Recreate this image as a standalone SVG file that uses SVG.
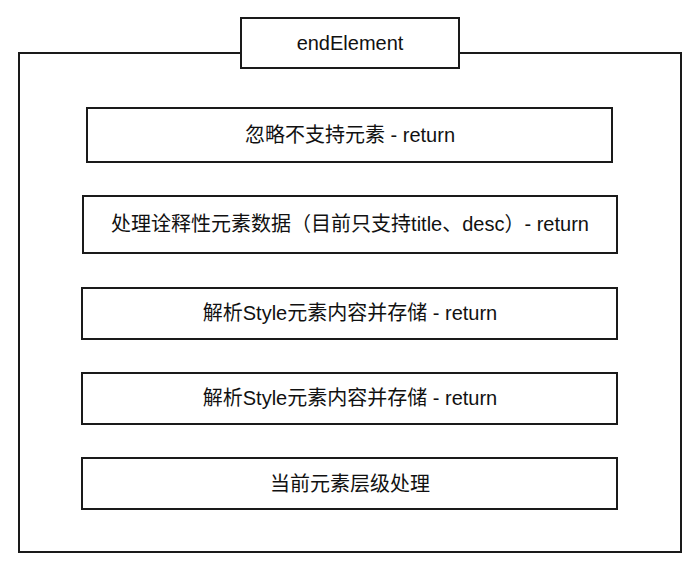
<svg xmlns="http://www.w3.org/2000/svg" width="699" height="571" viewBox="0 0 699 571">
<style>
.box{fill:#fff;stroke:#1a1a1a;stroke-width:2}
.t{font-family:"Liberation Sans","Noto Sans CJK SC",sans-serif;font-size:20px;fill:#111;text-anchor:middle;dominant-baseline:central}
</style>
<rect width="699" height="571" fill="#fff"/>
<g id="frame">
<rect class="box" x="19" y="53" width="662" height="499"/>
</g>
<g id="title">
<rect class="box" x="241" y="18" width="218" height="50"/>
<text class="t" x="350" y="43">endElement</text>
</g>
<g id="n1">
<rect class="box" x="87" y="108" width="525" height="54"/>
<text class="t" x="350" y="135">忽略不支持元素 - return</text>
</g>
<g id="n2">
<rect class="box" x="83" y="196" width="534" height="57"/>
<text class="t" x="350" y="224">处理诠释性元素数据（目前只支持title、desc）- return</text>
</g>
<g id="n3">
<rect class="box" x="82" y="288" width="535" height="51"/>
<text class="t" x="350" y="313">解析Style元素内容并存储 - return</text>
</g>
<g id="n4">
<rect class="box" x="82" y="373" width="535" height="51"/>
<text class="t" x="350" y="398">解析Style元素内容并存储 - return</text>
</g>
<g id="n5">
<rect class="box" x="82" y="458" width="535" height="51"/>
<text class="t" x="350" y="484">当前元素层级处理</text>
</g>
<g id="connectors"></g>
</svg>
